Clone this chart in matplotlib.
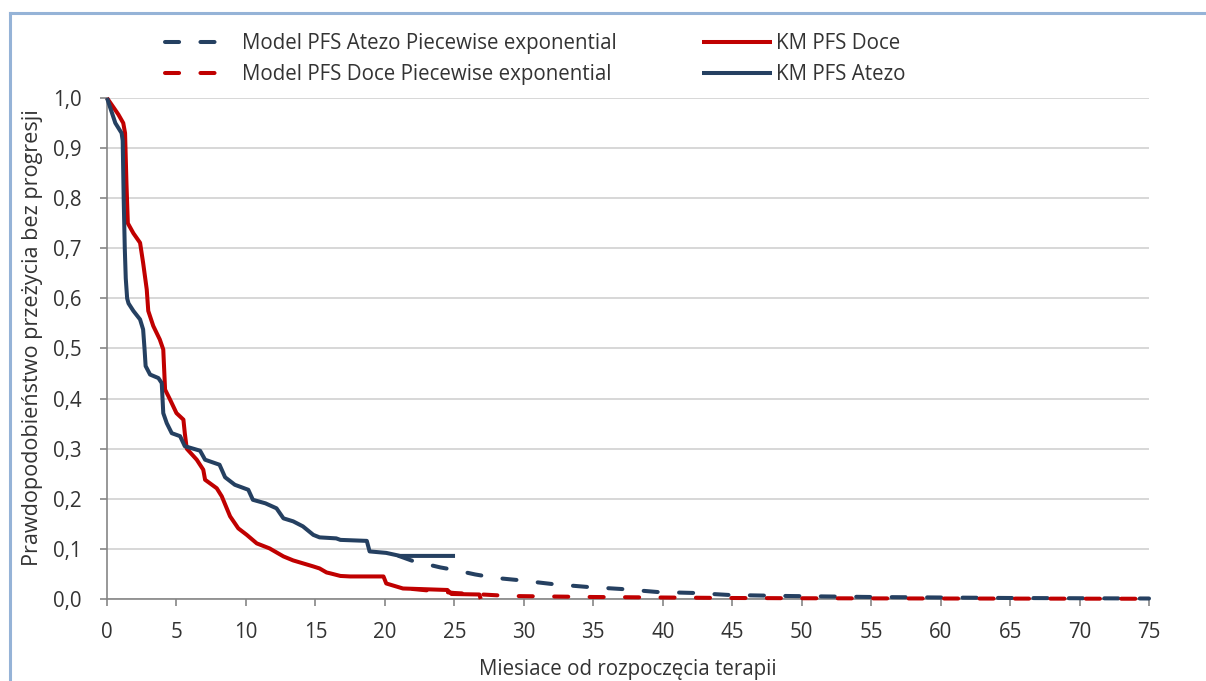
import matplotlib
matplotlib.use('Agg')
import matplotlib.pyplot as plt
from matplotlib.lines import Line2D
from matplotlib.ticker import FuncFormatter, MultipleLocator

plt.rcParams['font.family'] = ['Open Sans', 'DejaVu Sans']

# ---- data (months, PFS probability) ----
km_atezo_t = [0, 0.6, 1.05, 1.13, 1.2, 1.28, 1.35, 1.45, 1.55, 1.9, 2.38, 2.6, 2.7, 2.78, 3.1, 3.7,
              3.94, 4.05, 4.3, 4.66, 5.26, 5.6, 6.7, 7.06, 8.1, 8.5, 9.2, 10.17, 10.5, 11.4, 12.2,
              12.7, 13.4, 14.1, 14.85, 15.3, 16.5, 16.8, 18.7, 18.9, 20.1, 21.1, 25.05]
km_atezo_s = [1.0, 0.95, 0.93, 0.915, 0.80, 0.70, 0.64, 0.60, 0.59, 0.575, 0.558, 0.538, 0.50, 0.465,
              0.448, 0.441, 0.431, 0.371, 0.351, 0.331, 0.325, 0.305, 0.296, 0.278, 0.268, 0.243,
              0.228, 0.218, 0.198, 0.191, 0.181, 0.161, 0.155, 0.145, 0.128, 0.123, 0.121, 0.118,
              0.116, 0.095, 0.092, 0.086, 0.086]

km_doce_t = [0, 0.5, 0.82, 1.17, 1.3, 1.4, 1.5, 1.9, 2.38, 2.6, 2.86, 2.97, 3.33, 3.8, 4.05, 4.18,
             4.54, 5.0, 5.5, 5.6, 5.74, 6.46, 6.93, 7.06, 7.9, 8.26, 8.86, 9.45, 10.06, 10.78, 11.7,
             12.7, 13.4, 14.85, 15.3, 15.8, 16.1, 16.8, 17.5, 19.9, 20.1, 21.3, 24.5, 24.8, 26.8, 26.9]
km_doce_s = [1.0, 0.98, 0.967, 0.95, 0.93, 0.83, 0.75, 0.73, 0.711, 0.671, 0.618, 0.575, 0.545, 0.518,
             0.498, 0.418, 0.398, 0.371, 0.358, 0.331, 0.300, 0.278, 0.258, 0.238, 0.221, 0.205,
             0.165, 0.141, 0.128, 0.111, 0.101, 0.085, 0.077, 0.065, 0.061, 0.053, 0.051, 0.046,
             0.045, 0.045, 0.031, 0.021, 0.018, 0.010, 0.009, 0.0]

model_atezo_t = [21, 22, 24, 25, 26.5, 28, 29.5, 32, 34.6, 37, 39.6, 42.3, 44.8, 49, 55, 60, 65, 70, 75]
model_atezo_s = [0.086, 0.076, 0.063, 0.058, 0.049, 0.042, 0.038, 0.030, 0.024, 0.020, 0.014, 0.012,
                 0.008, 0.006, 0.004, 0.003, 0.002, 0.0015, 0.001]

model_doce_t = [22, 25, 27, 29, 32, 35, 40, 45, 50, 60, 75]
model_doce_s = [0.020, 0.012, 0.009, 0.006, 0.005, 0.004, 0.003, 0.002, 0.0015, 0.001, 0.0005]

labels = ['Model PFS Atezo Piecewise exponential', 'Model PFS Doce Piecewise exponential',
          'KM PFS Doce', 'KM PFS Atezo']
x_label = 'Miesiace od rozpoczęcia terapii'
y_label = 'Prawdopodobieństwo przeżycia bez progresji'

BLUE = '#254061'
RED = '#c00000'
GRID = '#d4d4d4'
AXC = '#868686'
TXT = '#333333'
FS = 14.8

W, H = 1206, 681
fig = plt.figure(figsize=(W / 100, H / 100), dpi=100)
ax = fig.add_axes([107 / W, 1 - 599 / H, (1149 - 107) / W, (599 - 98) / H])

lw = 2.9
dash = (3.5, 5.3)
l_ma, = ax.plot(model_atezo_t, model_atezo_s, color=BLUE, lw=lw, dashes=dash,
                dash_capstyle='round', clip_on=False, zorder=3)
l_md, = ax.plot(model_doce_t, model_doce_s, color=RED, lw=lw, dashes=dash,
                dash_capstyle='round', clip_on=False, zorder=3)
l_kd, = ax.plot(km_doce_t, km_doce_s, color=RED, lw=lw, solid_capstyle='butt',
                solid_joinstyle='round', clip_on=False, zorder=4)
l_ka, = ax.plot(km_atezo_t, km_atezo_s, color=BLUE, lw=lw, solid_capstyle='butt',
                solid_joinstyle='round', clip_on=False, zorder=5)

ax.set_xlim(0, 75)
ax.set_ylim(0, 1)
ax.xaxis.set_major_locator(MultipleLocator(5))
ax.yaxis.set_major_locator(MultipleLocator(0.1))
ax.yaxis.set_major_formatter(FuncFormatter(lambda v, _: f"{v:.1f}".replace('.', ',')))
ax.grid(axis='y', color=GRID, lw=1.3, zorder=0)
ax.set_axisbelow(True)
for s in ['top', 'right']:
    ax.spines[s].set_visible(False)
for s in ['left', 'bottom']:
    ax.spines[s].set_color(AXC)
    ax.spines[s].set_linewidth(1.2)
ax.tick_params(axis='x', direction='out', length=5, width=1.2, color=AXC, pad=11.5,
               labelsize=FS, labelcolor=TXT)
ax.tick_params(axis='y', direction='out', length=5, width=1.2, color=AXC, pad=13,
               labelsize=FS, labelcolor=TXT)

fig.text(628 / W, 1 - 670 / H, x_label, ha='center', va='center', fontsize=FS, color=TXT)
fig.text(33 / W, 1 - 338 / H, y_label, ha='center', va='center', rotation=90,
         fontsize=15.6, color=TXT)

em = FS * 100 / 72
leg1 = fig.legend([l_ma, l_md], labels[:2], loc='upper left',
                  bbox_to_anchor=(165 / W, 1 - 33 / H), bbox_transform=fig.transFigure,
                  frameon=False, borderpad=0, borderaxespad=0, fontsize=FS,
                  handlelength=57 / em, handletextpad=20 / em, labelspacing=0.48,
                  labelcolor=TXT)
leg2 = fig.legend([l_kd, l_ka], labels[2:], loc='upper left',
                  bbox_to_anchor=(702 / W, 1 - 33 / H), bbox_transform=fig.transFigure,
                  frameon=False, borderpad=0, borderaxespad=0, fontsize=FS,
                  handlelength=70 / em, handletextpad=4 / em, labelspacing=0.48,
                  labelcolor=TXT)

# chart frame (partially visible)
frame_c = '#95b3d7'
fig.add_artist(Line2D([10 / W, 10 / W], [0, 1 - 13 / H], transform=fig.transFigure,
                      color=frame_c, lw=2.2, solid_capstyle='projecting'))
fig.add_artist(Line2D([10 / W, 1], [1 - 13 / H, 1 - 13 / H], transform=fig.transFigure,
                      color=frame_c, lw=2.2, solid_capstyle='projecting'))

fig.savefig('out.png', dpi=100)
